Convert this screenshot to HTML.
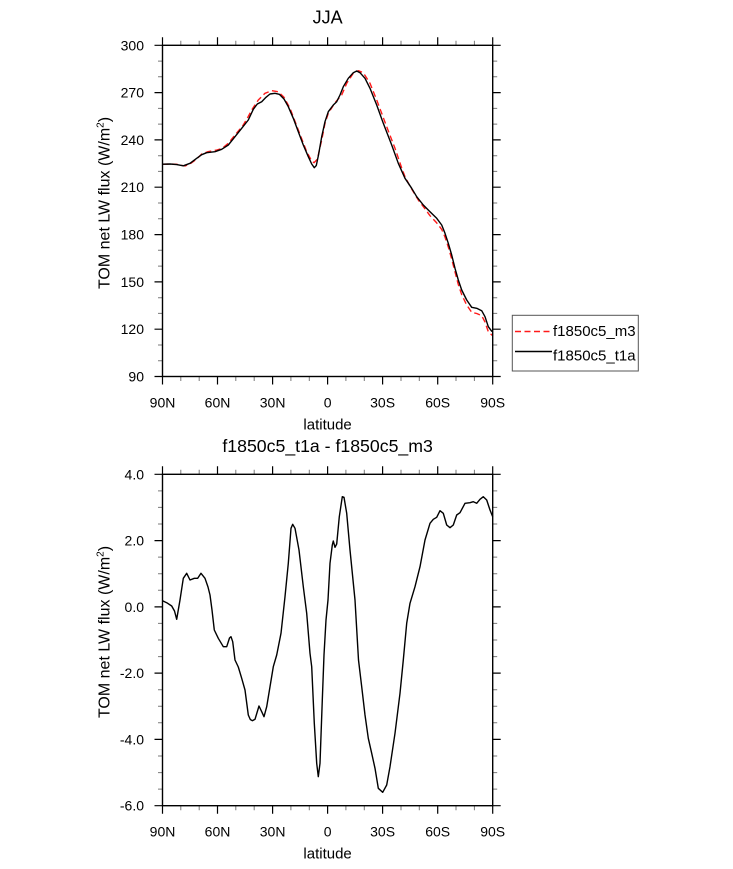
<!DOCTYPE html>
<html>
<head>
<meta charset="utf-8">
<style>
  html, body { margin:0; padding:0; background:#fff; }
  svg { display:block; }
  text { font-family: "Liberation Sans", "DejaVu Sans", sans-serif; fill:#000; }
</style>
</head>
<body>
<svg width="733" height="869" viewBox="0 0 733 869" xmlns="http://www.w3.org/2000/svg">
  <rect x="0" y="0" width="733" height="869" fill="#fff"/>

  <!-- ================= TOP PLOT ================= -->
  <text x="327.6" y="23.5" font-size="18" text-anchor="middle">JJA</text>

  <!-- minor ticks top plot -->
  <path fill="none" stroke="#7a7a7a" stroke-width="1" d="
    M180.8 376.5v4.5 M199.2 376.5v4.5 M235.8 376.5v4.5 M254.2 376.5v4.5 M290.9 376.5v4.5 M309.3 376.5v4.5 M345.9 376.5v4.5 M364.3 376.5v4.5 M401 376.5v4.5 M419.3 376.5v4.5 M456 376.5v4.5 M474.4 376.5v4.5
    M180.8 45.3v-4.5 M199.2 45.3v-4.5 M235.8 45.3v-4.5 M254.2 45.3v-4.5 M290.9 45.3v-4.5 M309.3 45.3v-4.5 M345.9 45.3v-4.5 M364.3 45.3v-4.5 M401 45.3v-4.5 M419.3 45.3v-4.5 M456 45.3v-4.5 M474.4 45.3v-4.5
    M162.5 61.1h-4.5 M162.5 76.8h-4.5 M162.5 108.4h-4.5 M162.5 124.1h-4.5 M162.5 155.7h-4.5 M162.5 171.4h-4.5 M162.5 203h-4.5 M162.5 218.8h-4.5 M162.5 250.3h-4.5 M162.5 266.1h-4.5 M162.5 297.7h-4.5 M162.5 313.4h-4.5 M162.5 345h-4.5 M162.5 360.7h-4.5
    M492.7 61.1h4.5 M492.7 76.8h4.5 M492.7 108.4h4.5 M492.7 124.1h4.5 M492.7 155.7h4.5 M492.7 171.4h4.5 M492.7 203h4.5 M492.7 218.8h4.5 M492.7 250.3h4.5 M492.7 266.1h4.5 M492.7 297.7h4.5 M492.7 313.4h4.5 M492.7 345h4.5 M492.7 360.7h4.5
  "/>
  <!-- major ticks top plot -->
  <path fill="none" stroke="#000" stroke-width="1.2" d="
    M162.5 376.5v8 M217.5 376.5v8 M272.6 376.5v8 M327.6 376.5v8 M382.6 376.5v8 M437.7 376.5v8 M492.7 376.5v8
    M162.5 45.3v-8 M217.5 45.3v-8 M272.6 45.3v-8 M327.6 45.3v-8 M382.6 45.3v-8 M437.7 45.3v-8 M492.7 45.3v-8
    M162.5 45.3h-8 M162.5 92.6h-8 M162.5 139.9h-8 M162.5 187.2h-8 M162.5 234.6h-8 M162.5 281.9h-8 M162.5 329.2h-8 M162.5 376.5h-8
    M492.7 45.3h8 M492.7 92.6h8 M492.7 139.9h8 M492.7 187.2h8 M492.7 234.6h8 M492.7 281.9h8 M492.7 329.2h8 M492.7 376.5h8
  "/>

  <!-- series top -->
  <polyline fill="none" stroke="#ff1a1a" stroke-width="1.4" stroke-dasharray="6 3.5" stroke-linejoin="round" points="
    162.5,164.2 170,164 176.7,164.3 185,166 190,164 196.7,159 201.7,154 208,151.7 216.7,150 222,148.5 228.3,143.3 235,135 243.3,125 248,117 251.7,110 258.3,100 265,93.3 271.7,90.7 278.3,91.7 284,97.3 290,108.3 298.3,130 306.7,151.7 311.7,161 314,162.7 317.3,159.3 321.7,140 325,123.3 328.3,113.3 335,102.7 341.7,95 346.7,83.3 353.3,73.3 358.3,70.7 363.3,72.7 370,83.3 376.7,100 386.7,126.7 395,148.3 401.7,168 405,176.7 410,186.2 418.3,200 423.3,206.6 430,215.7 436.7,222.9 441.7,229.4 445,237 448.3,247 451.7,259 455,272 458.3,284.5 461.7,294.7 466.7,305 471.7,312.3 476.7,313.5 481.7,315.7 485,322 488.3,331.7 492.7,335.8"/>
  <polyline fill="none" stroke="#000" stroke-width="1.4" stroke-linejoin="round" points="
    162.5,164.2 170,164 176.7,164.6 183.3,165.8 190,163.3 196.7,158.3 201.7,154.7 206.7,152.7 215,151.7 221.7,149.3 228.3,145 235,136.7 241.7,128.3 248.3,120 253.3,109.3 257.3,104 261.7,101.7 266,97.3 270,94 275,93.3 279.3,94.3 284,99 288.3,106.7 293.3,118.3 298.3,131.7 303.3,145 308.3,156.7 311.7,164 314.3,167.7 316.3,165.5 318.5,155 321.7,136.7 325,121.7 328.3,111.7 333.3,105 336.7,101.7 340,95 343.3,86.7 348.3,78.3 353.3,72.7 356.7,71 360,72.7 365,78.3 370,88.3 376.7,105 383.3,123.3 391.7,145 398.3,163.3 405,178.3 411.7,188.3 416.7,196.7 423.3,205 430,211.7 436.7,218.3 441.7,225 445,233.3 448.3,243.3 451.7,255 455,268.3 458.3,280 461.7,290 466.7,300 471.7,307.3 476.7,308.3 481.7,310.7 485,316.7 488.3,326.7 491.7,331.2 492.7,331.2"/>

  <rect x="162.5" y="45.3" width="330.2" height="331.2" fill="none" stroke="#000" stroke-width="1.4"/>

  <!-- y tick labels top -->
  <g font-size="14" text-anchor="end">
    <text x="144" y="50.3">300</text>
    <text x="144" y="97.6">270</text>
    <text x="144" y="144.9">240</text>
    <text x="144" y="192.2">210</text>
    <text x="144" y="239.6">180</text>
    <text x="144" y="286.9">150</text>
    <text x="144" y="334.2">120</text>
    <text x="144" y="381.5">90</text>
  </g>
  <!-- x tick labels top -->
  <g font-size="14" text-anchor="middle">
    <text x="162.5" y="407.5">90N</text>
    <text x="217.5" y="407.5">60N</text>
    <text x="272.6" y="407.5">30N</text>
    <text x="327.6" y="407.5">0</text>
    <text x="382.6" y="407.5">30S</text>
    <text x="437.7" y="407.5">60S</text>
    <text x="492.7" y="407.5">90S</text>
  </g>
  <text x="327.6" y="429.5" font-size="15" text-anchor="middle">latitude</text>
  <text transform="translate(109.5,203) rotate(-90)" font-size="16" text-anchor="middle">TOM net LW flux (W/m<tspan font-size="10" dy="-6">2</tspan><tspan dy="6">)</tspan></text>

  <!-- legend -->
  <rect x="512.3" y="315.3" width="126" height="55.7" fill="#fff" stroke="#555" stroke-width="1"/>
  <line x1="515" y1="331.5" x2="552" y2="331.5" stroke="#ff1a1a" stroke-width="1.4" stroke-dasharray="6 3.5"/>
  <text x="553" y="336" font-size="15">f1850c5_m3</text>
  <line x1="515" y1="351.5" x2="552" y2="351.5" stroke="#000" stroke-width="1.4"/>
  <text x="553" y="360.5" font-size="15">f1850c5_t1a</text>

  <!-- ================= BOTTOM PLOT ================= -->
  <text x="327.6" y="452" font-size="17.7" text-anchor="middle">f1850c5_t1a - f1850c5_m3</text>

  <path fill="none" stroke="#7a7a7a" stroke-width="1" d="
    M180.8 805.7v4.5 M199.2 805.7v4.5 M235.8 805.7v4.5 M254.2 805.7v4.5 M290.9 805.7v4.5 M309.3 805.7v4.5 M345.9 805.7v4.5 M364.3 805.7v4.5 M401 805.7v4.5 M419.3 805.7v4.5 M456 805.7v4.5 M474.4 805.7v4.5
    M180.8 474.3v-4.5 M199.2 474.3v-4.5 M235.8 474.3v-4.5 M254.2 474.3v-4.5 M290.9 474.3v-4.5 M309.3 474.3v-4.5 M345.9 474.3v-4.5 M364.3 474.3v-4.5 M401 474.3v-4.5 M419.3 474.3v-4.5 M456 474.3v-4.5 M474.4 474.3v-4.5
    M162.5 490.9h-4.5 M162.5 507.4h-4.5 M162.5 524h-4.5 M162.5 557.1h-4.5 M162.5 573.7h-4.5 M162.5 590.3h-4.5 M162.5 623.4h-4.5 M162.5 640h-4.5 M162.5 656.6h-4.5 M162.5 689.7h-4.5 M162.5 706.3h-4.5 M162.5 722.8h-4.5 M162.5 756h-4.5 M162.5 772.6h-4.5 M162.5 789.1h-4.5
    M492.7 490.9h4.5 M492.7 507.4h4.5 M492.7 524h4.5 M492.7 557.1h4.5 M492.7 573.7h4.5 M492.7 590.3h4.5 M492.7 623.4h4.5 M492.7 640h4.5 M492.7 656.6h4.5 M492.7 689.7h4.5 M492.7 706.3h4.5 M492.7 722.8h4.5 M492.7 756h4.5 M492.7 772.6h4.5 M492.7 789.1h4.5
  "/>
  <path fill="none" stroke="#000" stroke-width="1.2" d="
    M162.5 805.7v8 M217.5 805.7v8 M272.6 805.7v8 M327.6 805.7v8 M382.6 805.7v8 M437.7 805.7v8 M492.7 805.7v8
    M162.5 474.3v-8 M217.5 474.3v-8 M272.6 474.3v-8 M327.6 474.3v-8 M382.6 474.3v-8 M437.7 474.3v-8 M492.7 474.3v-8
    M162.5 474.3h-8 M162.5 540.6h-8 M162.5 606.9h-8 M162.5 673.1h-8 M162.5 739.4h-8 M162.5 805.7h-8
    M492.7 474.3h8 M492.7 540.6h8 M492.7 606.9h8 M492.7 673.1h8 M492.7 739.4h8 M492.7 805.7h8
  "/>

  <polyline fill="none" stroke="#000" stroke-width="1.4" stroke-linejoin="round" points="
    162.5,600.7 166.7,602.7 171.7,606 174.5,611 176.7,619.3 180,600 183.3,578.3 186.7,573.3 190,580 194.3,578.3 197.7,578.3 201,573.3 205,578.3 208,587 210,595 212,610 214.3,630 218.3,638.3 223.3,646.7 226.7,646.7 229.5,638 231,636.7 232.7,641.7 235,660 238.3,667 241.7,678.3 245,690 248.3,715 250.3,719.5 252.3,720.7 255,719.3 259,706 261.7,711.7 264,716.7 266.7,706.7 270,686.7 273.3,666.7 276.7,655 281,633.3 285,596.7 288.3,563.3 291,528.3 292.7,524.3 295,528.3 299,550 303.3,586.7 306.7,613.3 310,653.3 311.7,666.7 314.3,723.3 316.7,763.3 318.3,776.7 320,763.3 322.3,700 324,655 326,620 328,600 330,563.3 332.3,545 333.3,541 335,547.3 336.7,544 339.3,516.7 342.3,496.7 344,497.3 346.7,513.3 350,550 355,600 358.5,660 361.7,686.7 365,715 368.3,738.3 371.7,753.3 375,768.3 378.3,788.3 382.7,792.3 386.7,785 390,766.7 395,733.3 400,693.3 403.3,660 406.7,623.3 410,603.3 415,586.7 420,566.7 425,540 430,523.3 433.3,519.3 436.7,517.3 440,510.7 443.3,513.3 446.7,525 450,527.7 453.3,525 456.7,515 460,512.7 465,503.3 470,502.7 473.3,501.7 476.7,503.3 480,499.3 483.3,496.7 486.7,500 490,510 492.7,516.7"/>

  <rect x="162.5" y="474.3" width="330.2" height="331.4" fill="none" stroke="#000" stroke-width="1.4"/>

  <g font-size="14" text-anchor="end">
    <text x="144" y="479.3">4.0</text>
    <text x="144" y="545.6">2.0</text>
    <text x="144" y="611.9">0.0</text>
    <text x="144" y="678.1">-2.0</text>
    <text x="144" y="744.4">-4.0</text>
    <text x="144" y="810.7">-6.0</text>
  </g>
  <g font-size="14" text-anchor="middle">
    <text x="162.5" y="836.5">90N</text>
    <text x="217.5" y="836.5">60N</text>
    <text x="272.6" y="836.5">30N</text>
    <text x="327.6" y="836.5">0</text>
    <text x="382.6" y="836.5">30S</text>
    <text x="437.7" y="836.5">60S</text>
    <text x="492.7" y="836.5">90S</text>
  </g>
  <text x="327.6" y="858.7" font-size="15" text-anchor="middle">latitude</text>
  <text transform="translate(109.5,632) rotate(-90)" font-size="16" text-anchor="middle">TOM net LW flux (W/m<tspan font-size="10" dy="-6">2</tspan><tspan dy="6">)</tspan></text>
</svg>
</body>
</html>
